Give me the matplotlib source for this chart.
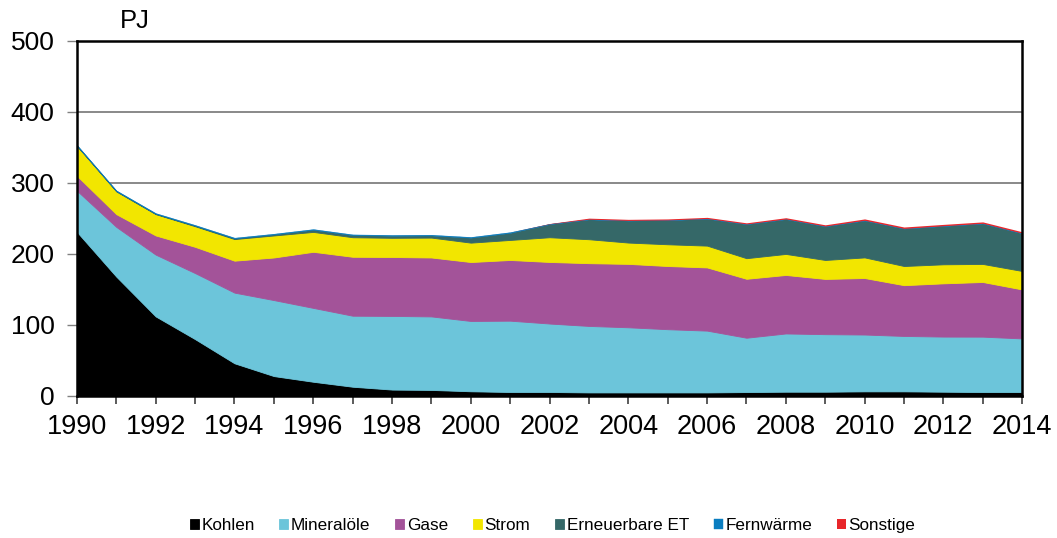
from matplotlib import pyplot as plt
import numpy

years = list(range(1990, 2015))

# PJ per energy carrier
kohlen = [231, 168, 112, 80, 46, 28, 20, 13, 9, 8.5, 6.6, 5.6, 5.6, 5, 5,
          5, 5, 5.5, 6, 6, 6.5, 6.5, 6, 5.5, 5.5]
mineraloele = [58, 70, 87, 93, 99.5, 107, 104, 100, 103.7, 103.5, 99, 100.4, 96.4, 93.6, 91.7,
               89, 87, 76.5, 82, 81, 80, 78, 77.6, 78, 75.5]
gase = [21, 18, 27, 37, 45, 60, 79, 83, 83, 83, 83, 85.5, 86.7, 88.4, 89.3,
        89, 89, 83, 82.4, 77.8, 79.6, 71.5, 75, 77, 69]
strom = [42, 32, 30, 29, 30.4, 31, 28, 27.5, 27, 28, 27.3, 28.2, 34.8, 33.7, 30,
         30.6, 30.7, 29, 29.6, 26.7, 29, 27, 26.8, 25.4, 26]
erneuerbare = [0.5, 0.5, 0.5, 0.8, 1, 1.5, 3, 3, 3, 3, 7, 10, 18.5, 28, 31,
               34, 38, 48, 49, 47.5, 52, 52.7, 54, 57, 53]
fernwaerme = [1, 1, 1, 1, 1, 1, 1, 1, 1, 1, 1, 1, 0.3, 0.2, 0.2,
              0.2, 0.2, 0.2, 0.2, 0.2, 0.2, 0.2, 0.2, 0.2, 0.2]
sonstige = [0, 0, 0, 0, 0, 0, 0, 0, 0, 0, 0, 0, 0.5, 1.5, 1.5,
            1.5, 1.6, 1.6, 1.8, 1.8, 2, 2, 2, 2, 2]

labels = ["Kohlen", "Mineralöle", "Gase", "Strom", "Erneuerbare ET", "Fernwärme", "Sonstige"]
colors = ["#000000", "#6CC5DA", "#A35399", "#F2E600", "#356868", "#0A7DC0", "#E8262A"]

plt.rcParams['font.family'] = ['Liberation Sans', 'DejaVu Sans']

fig = plt.figure(figsize=(10.57, 5.38), dpi=100)
ax = fig.add_axes([0.0728, 0.264, 0.967 - 0.0728, 0.924 - 0.264])

series = [kohlen, mineraloele, gase, strom, erneuerbare, fernwaerme, sonstige]
polys = ax.stackplot(years, *series, colors=colors, labels=labels, linewidth=0.6)
for p, c in zip(polys, colors):
    p.set_edgecolor(c)
# the thin top layers should not draw an outline where they are empty
polys[-1].set_linewidth(0)
polys[-2].set_linewidth(0.3)

ax.set_xlim(1990, 2014)
ax.set_ylim(0, 500)
ax.set_yticks(numpy.arange(0, 501, 100))
ax.set_xticks(years, minor=True)
ax.set_xticks(range(1990, 2015, 2))
ax.tick_params(axis='y', labelsize=19, direction='out', length=7, width=1,
               color='#808080', pad=9)
ax.tick_params(axis='x', which='both', labelsize=19.5, direction='out', length=6,
               width=1.2, color='#404040', pad=7)

# horizontal grid lines
for v in [100, 200, 300, 400]:
    ax.axhline(v, color="#808080", linewidth=1.3, zorder=0)
for s in ['left', 'bottom', 'right', 'top']:
    ax.spines[s].set_linewidth(1.8)
    ax.spines[s].set_color('black')
ax.spines['top'].set_zorder(5)

fig.text(0.113, 0.948, "PJ", fontsize=18.5)

fig.legend(loc='center', bbox_to_anchor=(0.5227, 0.023), ncol=7, frameon=False,
           fontsize=12.3, handlelength=0.53, handleheight=0.53, handletextpad=0.15,
           columnspacing=1.45)

fig.savefig("out.png", dpi=100)
